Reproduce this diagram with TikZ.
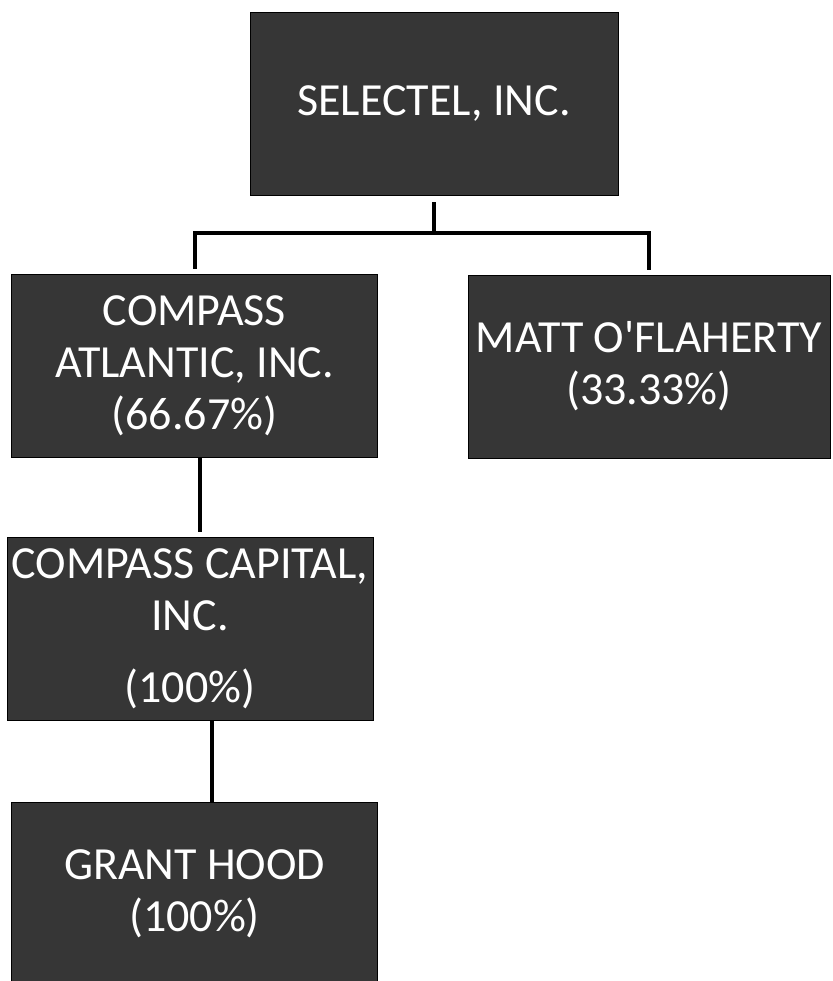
\documentclass[tikz,border=0pt]{standalone}
\usepackage{fontspec}
\setmainfont{Carlito}[Ligatures=TeXOff]
\usetikzlibrary{positioning, calc}

\begin{document}
\begin{tikzpicture}[x=0.5pt, y=-0.5pt,
    orgbox/.style={draw=black, fill=black!79, text=white, align=center, inner sep=0pt,
        minimum width=183pt, minimum height=91.5pt, font=\fontsize{23}{26}\selectfont},
    link/.style={line width=2pt, black}]
        \useasboundingbox (0,0) rectangle (832,981);
        \node[orgbox, minimum width=184pt] (selectel) at (434, 103.5) {SELECTEL, INC.};
        \node[orgbox] (atlantic) at (194.5, 366) {COMPASS\\ATLANTIC, INC.\\(66.67\%)};
        \node[orgbox, minimum width=181pt] (matt) at (649, 366.5) {MATT O'FLAHERTY\\(33.33\%)};
        \node[orgbox] (capital) at (190, 628.5) {COMPASS CAPITAL,\\INC.\\[10pt](100\%)};
        \node[orgbox] (grant) at (194.5, 893.5) {GRANT HOOD\\(100\%)};
        \draw[link, shorten <=3.5pt] (selectel.south) -- ++(0,38) coordinate (split);
        \draw[link, shorten >=2.5pt] (split) -| (atlantic.north);
        \draw[link, shorten >=2.5pt] (split) -| (matt.north);
        \draw[link, shorten >=2.5pt] ([xshift=2.75pt]atlantic.south) -- ([xshift=2.75pt]atlantic.south |- capital.north);
        \draw[link] ([xshift=11pt]capital.south) -- ([xshift=11pt]capital.south |- grant.north);
    \end{tikzpicture}
\end{document}
